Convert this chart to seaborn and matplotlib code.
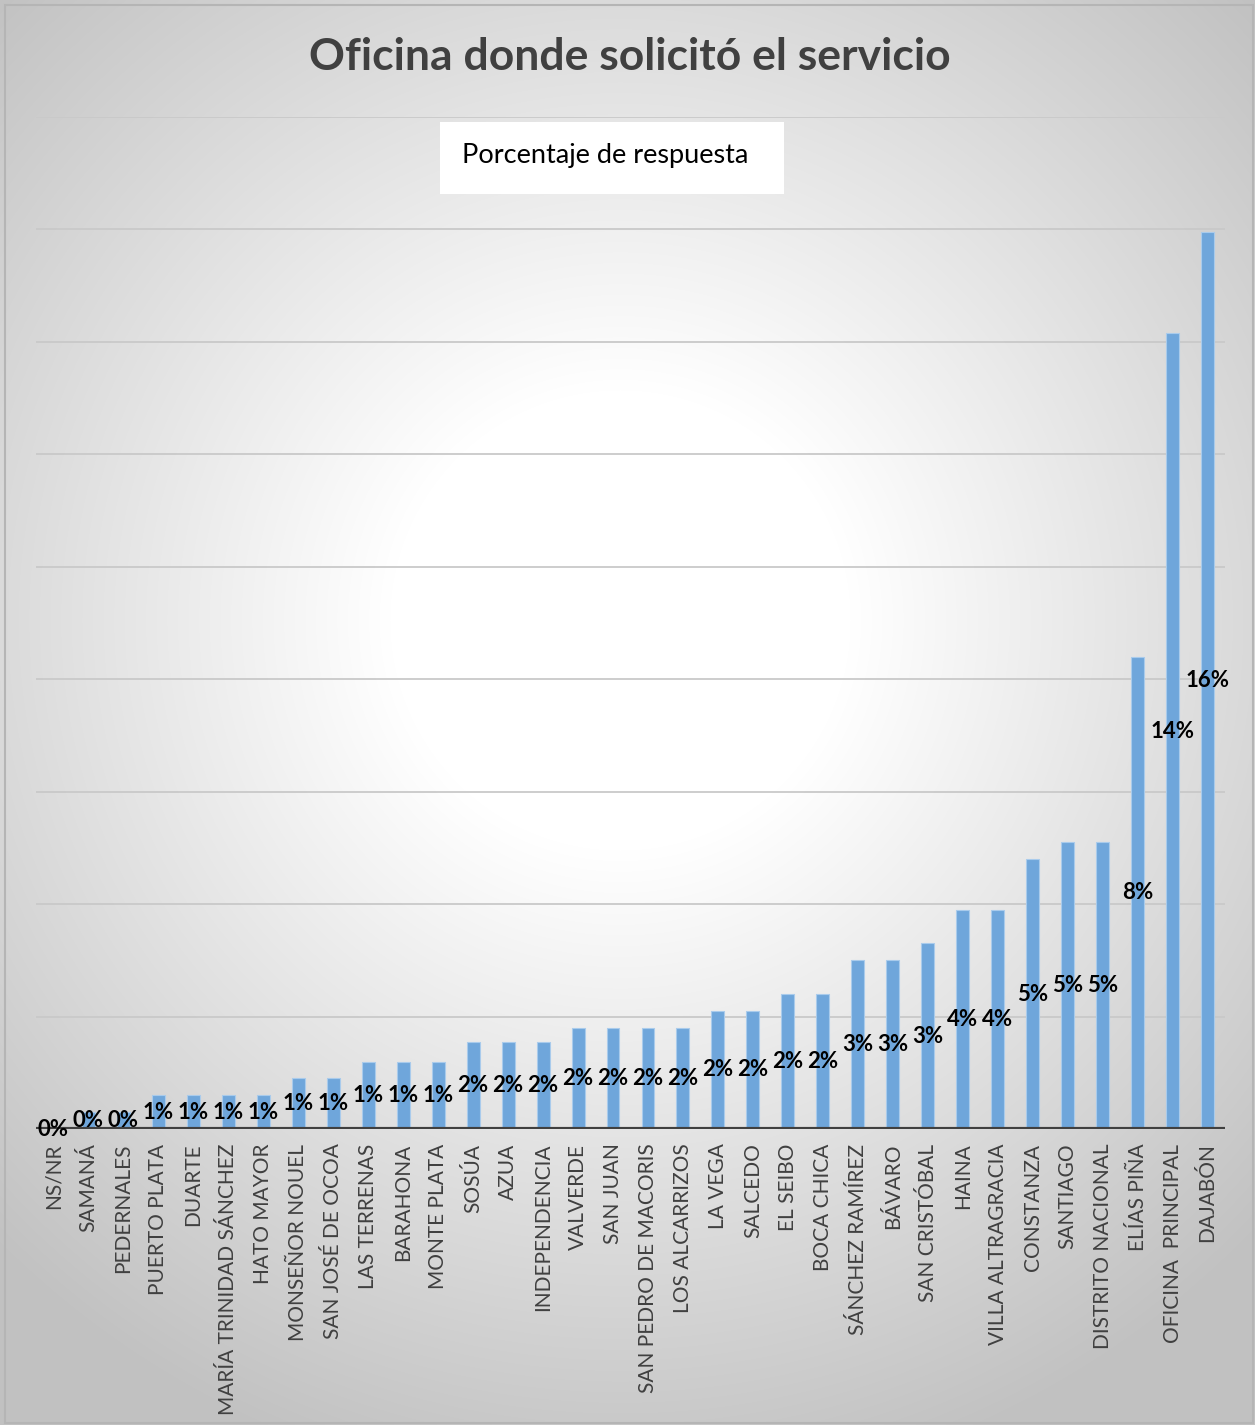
import numpy as np
import pandas as pd
import matplotlib
matplotlib.use("Agg")
import matplotlib.pyplot as plt
import seaborn as sns
from matplotlib.patches import Rectangle

categories = ["NS/NR", "SAMANÁ", "PEDERNALES", "PUERTO PLATA", "DUARTE",
              "MARÍA TRINIDAD SÁNCHEZ", "HATO MAYOR", "MONSEÑOR NOUEL",
              "SAN JOSÉ DE OCOA", "LAS TERRENAS", "BARAHONA", "MONTE PLATA",
              "SOSÚA", "AZUA", "INDEPENDENCIA", "VALVERDE", "SAN JUAN",
              "SAN PEDRO DE MACORIS", "LOS ALCARRIZOS", "LA VEGA", "SALCEDO",
              "EL SEIBO", "BOCA CHICA", "SÁNCHEZ RAMÍREZ", "BÁVARO",
              "SAN CRISTÓBAL", "HAINA", "VILLA ALTRAGRACIA", "CONSTANZA",
              "SANTIAGO", "DISTRITO NACIONAL", "ELÍAS PIÑA",
              "OFICINA  PRINCIPAL", "DAJABÓN"]
values = [0.0, 0.3, 0.3, 0.6, 0.6, 0.6, 0.6, 0.9, 0.9, 1.2, 1.2, 1.2,
          1.55, 1.55, 1.55, 1.8, 1.8, 1.8, 1.8, 2.1, 2.1, 2.4, 2.4, 3.0, 3.0,
          3.3, 3.9, 3.9, 4.8, 5.1, 5.1, 8.4, 14.15, 15.95]
title = "Oficina donde solicitó el servicio"
legend_label = "Porcentaje de respuesta"

df = pd.DataFrame({"oficina": categories, "pct": values})

W, H = 1255, 1425
fig = plt.figure(figsize=(W / 100, H / 100), dpi=100)
plt.rcParams["font.family"] = ["Lato", "DejaVu Sans"]

# background radial gradient
bg = fig.add_axes([0, 0, 1, 1], zorder=-10)
yy, xx = np.mgrid[0:H, 0:W]
r = np.hypot(xx - 620, (yy - 620) * 1.0)
t = np.clip((r - 230) / 650, 0, 1)
g = 1.0 - 0.24 * t
bg.imshow(np.dstack([g, g, g]), extent=[0, W, H, 0], aspect="auto")
bg.set_xlim(0, W)
bg.set_ylim(H, 0)
bg.axis("off")
fig.patches.append(Rectangle((5 / W, 2 / H), 1248 / W, 1418 / H,
                             transform=fig.transFigure, fill=False,
                             edgecolor="#b5b5b5", lw=1.5))

ax = fig.add_axes([36 / W, 1 - 1129 / H, (1225 - 36) / W, (1129 - 117) / H])
ax.set_facecolor("none")
sns.barplot(data=df, x="oficina", y="pct", ax=ax, color="#6FA6DB",
            saturation=1, width=0.37, edgecolor="#a9cbec", linewidth=0.8,
            zorder=3)
ax.set_xlim(-0.5, len(categories) - 0.5)
ax.set_ylim(0, 18)
ax.set_yticks(np.arange(2, 19, 2))
ax.yaxis.grid(True, color="#c9c9c9", lw=1.3)
ax.set_axisbelow(True)
ax.tick_params(axis="y", left=False, labelleft=False)
ax.tick_params(axis="x", bottom=False, pad=7, labelsize=15,
               labelcolor="#404040", rotation=90)
for s in ax.spines.values():
    s.set_visible(False)
ax.axhline(0, color="#404040", lw=3, zorder=5)
ax.set_xlabel("")
ax.set_ylabel("")

labels = [f"{v:.0f}%" for v in values]
ax.bar_label(ax.containers[0], labels=labels, label_type="center",
             fontsize=16, fontweight="bold", color="black", zorder=6)

fig.text(630 / W, 1 - 57 / H, title, ha="center", va="center",
         fontsize=32, fontweight="bold", color="#404040")

fig.patches.append(Rectangle((440 / W, 1 - 194 / H), 344 / W, 72 / H,
                             transform=fig.transFigure, facecolor="white",
                             edgecolor="none", zorder=1))
fig.text(462 / W, 1 - 156 / H, legend_label, ha="left", va="center",
         fontsize=19.5, color="black", zorder=2)

fig.savefig("out.png", dpi=100)
